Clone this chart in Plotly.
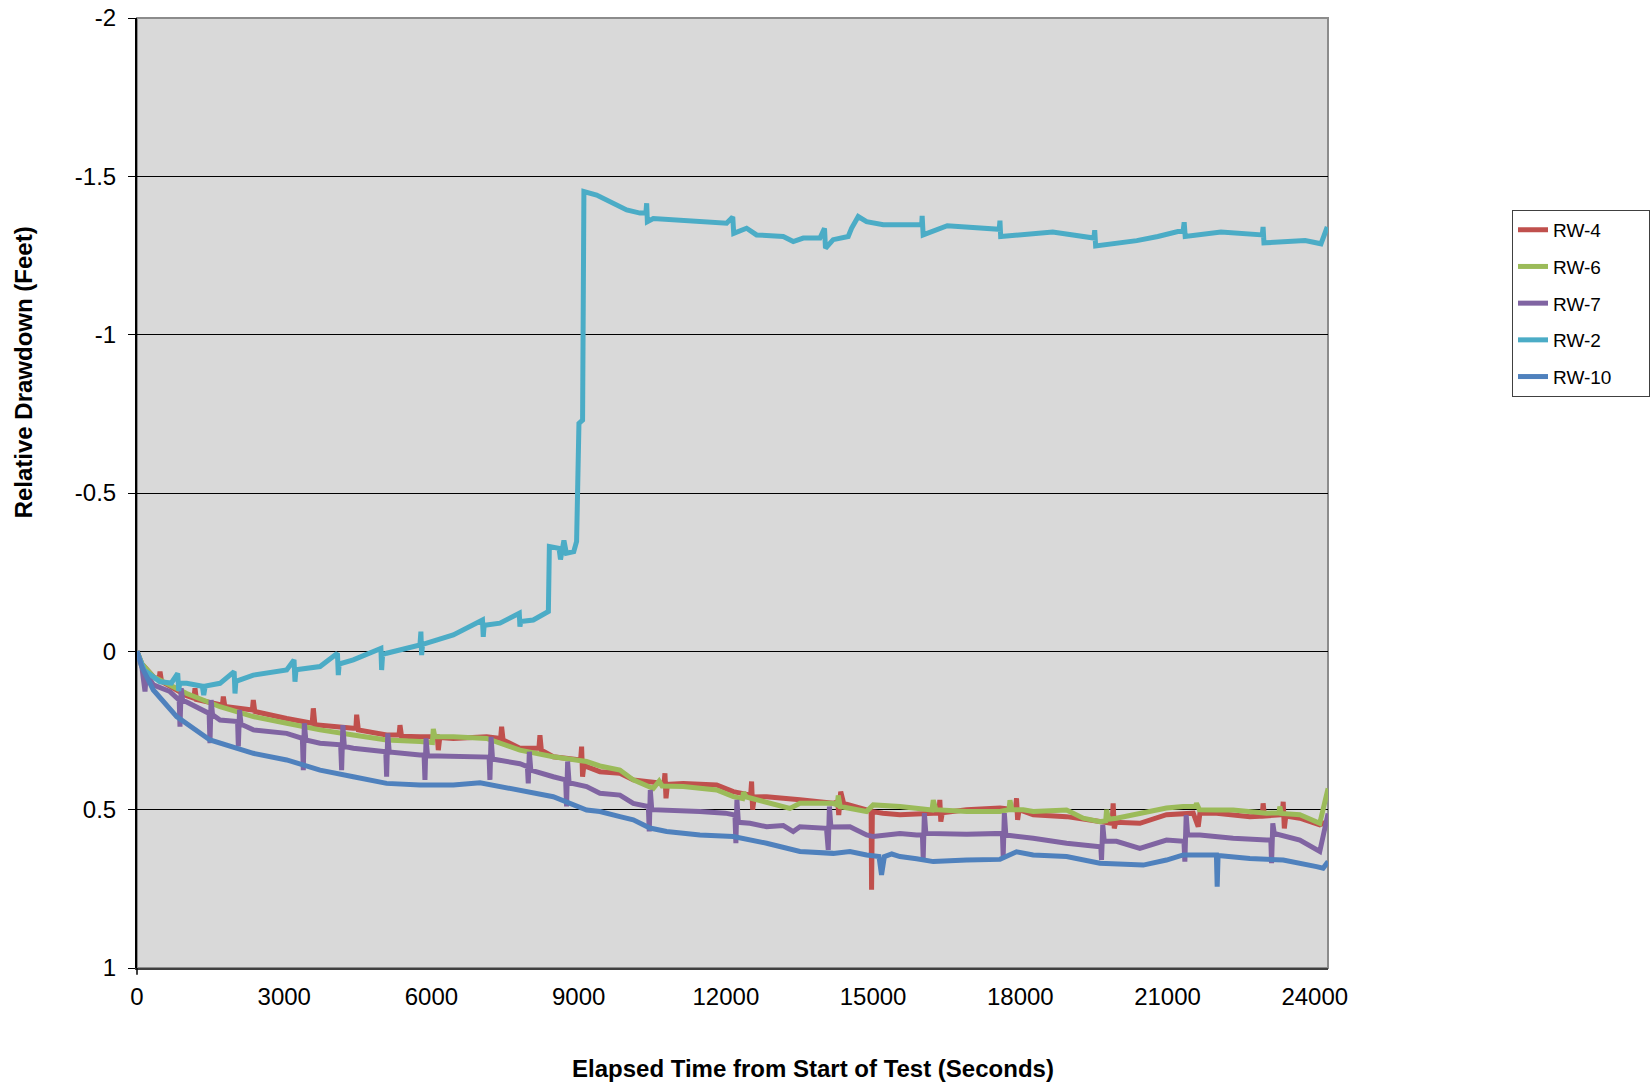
import plotly.graph_objects as go

# ---- data (elapsed seconds, relative drawdown in feet) ----
rw4_t = [0, 100, 333, 450, 469, 500, 1012, 1160, 1182, 1210, 1740, 1759, 1790, 2350, 2370, 2400,
         3050, 3570, 3593, 3625, 4408, 4460, 4476, 4510, 5087, 5340, 5359, 5390, 5766, 6120, 6140,
         6170, 6445, 7125, 7410, 7430, 7460, 7803, 8190, 8211, 8240, 8483, 9040, 9060, 9080, 9110,
         9162, 9433, 9841, 10113, 10740, 10758, 10780, 10810, 11131, 11812, 12151, 12505, 12524,
         12545, 12580, 12830, 13510, 14188, 14280, 14300, 14340, 14400, 14867, 14960, 14969, 14985,
         15200, 15547, 16226, 16340, 16360, 16380, 16410, 16906, 17585, 17900, 17923, 17945, 17975,
         18263, 18942, 19621, 19870, 19892, 19915, 19945, 20436, 20979, 21524, 21625, 21660, 22001,
         22678, 22930, 22948, 22975, 23340, 23357, 23380, 23410, 23696, 24102, 24272]
rw4_v = [0, 0.04, 0.08, 0.09, 0.064, 0.095, 0.14, 0.148, 0.117, 0.152, 0.17, 0.143, 0.174, 0.185,
         0.154, 0.19, 0.212, 0.227, 0.18, 0.232, 0.243, 0.243, 0.2, 0.248, 0.264, 0.264, 0.233, 0.268,
         0.27, 0.27, 0.312, 0.272, 0.275, 0.27, 0.275, 0.238, 0.28, 0.306, 0.306, 0.265, 0.312, 0.333,
         0.343, 0.301, 0.396, 0.355, 0.364, 0.38, 0.385, 0.406, 0.417, 0.385, 0.464, 0.42, 0.417,
         0.422, 0.443, 0.454, 0.411, 0.5, 0.46, 0.459, 0.469, 0.48, 0.475, 0.517, 0.443, 0.48, 0.501,
         0.506, 0.753, 0.506, 0.511, 0.516, 0.511, 0.511, 0.469, 0.538, 0.51, 0.5, 0.495, 0.5, 0.464,
         0.532, 0.5, 0.516, 0.522, 0.538, 0.543, 0.48, 0.559, 0.54, 0.543, 0.516, 0.511, 0.554,
         0.511, 0.511, 0.522, 0.52, 0.48, 0.52, 0.516, 0.475, 0.559, 0.52, 0.527, 0.548, 0.537]

rw6_t = [0, 100, 333, 1012, 1691, 2370, 3050, 3730, 4408, 5087, 5766, 6020, 6038, 6070, 6445, 7125,
         7803, 8483, 9162, 9433, 9841, 10113, 10520, 10640, 10700, 11131, 11812, 12151, 12340, 12360,
         12420, 12830, 13305, 13510, 14188, 14270, 14290, 14330, 14867, 15003, 15547, 16200, 16226,
         16280, 16906, 17585, 17770, 17789, 17830, 18060, 18263, 18942, 19281, 19621, 19740, 19758,
         19800, 19960, 20300, 20979, 21319, 21570, 21590, 21650, 22001, 22337, 23017, 23270, 23288,
         23320, 23696, 24102, 24272]
rw6_v = [0, 0.04, 0.08, 0.133, 0.175, 0.206, 0.227, 0.248, 0.264, 0.28, 0.285, 0.288, 0.245, 0.27,
         0.27, 0.275, 0.312, 0.333, 0.348, 0.362, 0.375, 0.406, 0.433, 0.41, 0.425, 0.427, 0.438,
         0.459, 0.465, 0.445, 0.46, 0.475, 0.496, 0.48, 0.48, 0.485, 0.455, 0.49, 0.506, 0.485, 0.49,
         0.501, 0.47, 0.5, 0.506, 0.506, 0.5, 0.47, 0.5, 0.5, 0.506, 0.501, 0.527, 0.538, 0.535, 0.50,
         0.53, 0.527, 0.516, 0.495, 0.49, 0.49, 0.48, 0.50, 0.501, 0.501, 0.511, 0.51, 0.49, 0.512,
         0.516, 0.543, 0.433]

rw7_t = [0, 100, 163, 190, 333, 672, 860, 876, 900, 930, 1012, 1470, 1487, 1510, 1540, 1691, 2050,
         2065, 2090, 2120, 2370, 3050, 3370, 3389, 3410, 3440, 3730, 4150, 4170, 4195, 4225, 4408,
         5070, 5087, 5110, 5140, 5766, 5850, 5868, 5890, 5920, 6445, 7125, 7175, 7192, 7215, 7245,
         7803, 7955, 7973, 7995, 8025, 8483, 8735, 8754, 8775, 8805, 9162, 9433, 9841, 10113, 10420,
         10439, 10460, 10490, 10792, 11471, 11990, 12185, 12204, 12225, 12255, 12491, 12830, 13170,
         13373, 13510, 14050, 14086, 14110, 14140, 14528, 14867, 15003, 15547, 15887, 16005, 16021,
         16045, 16075, 16906, 17635, 17651, 17675, 17705, 18263, 18942, 19621, 19640, 19655, 19680,
         19710, 19960, 20436, 20979, 21335, 21353, 21380, 21410, 21658, 22337, 23017, 23105, 23120,
         23145, 23175, 23696, 24102, 24272]
rw7_v = [0, 0.05, 0.127, 0.07, 0.106, 0.127, 0.154, 0.238, 0.117, 0.155, 0.16, 0.196, 0.29, 0.154,
         0.2, 0.217, 0.222, 0.30, 0.185, 0.23, 0.248, 0.259, 0.275, 0.375, 0.227, 0.28, 0.29, 0.295,
         0.375, 0.233, 0.30, 0.306, 0.317, 0.396, 0.259, 0.318, 0.327, 0.327, 0.406, 0.275, 0.33,
         0.333, 0.333, 0.334, 0.406, 0.27, 0.34, 0.355, 0.364, 0.417, 0.317, 0.375, 0.396, 0.406,
         0.49, 0.348, 0.415, 0.427, 0.448, 0.454, 0.48, 0.49, 0.569, 0.438, 0.50, 0.501, 0.506, 0.511,
         0.517, 0.606, 0.469, 0.54, 0.543, 0.554, 0.55, 0.569, 0.554, 0.559, 0.627, 0.49, 0.555,
         0.554, 0.58, 0.585, 0.575, 0.58, 0.58, 0.654, 0.511, 0.575, 0.578, 0.575, 0.648, 0.511, 0.58,
         0.59, 0.606, 0.617, 0.617, 0.659, 0.548, 0.60, 0.60, 0.622, 0.596, 0.60, 0.664, 0.517, 0.58,
         0.58, 0.59, 0.596, 0.596, 0.669, 0.543, 0.575, 0.596, 0.632, 0.512]

rw2_t = [0, 150, 469, 700, 830, 850, 870, 1012, 1330, 1360, 1390, 1691, 1980, 1997, 2015, 2370,
         3050, 3200, 3219, 3240, 3730, 4085, 4102, 4120, 4408, 4970, 4985, 5005, 5087, 5766, 5785,
         5800, 5820, 6445, 7040, 7056, 7075, 7125, 7396, 7790, 7803, 7820, 8075, 8383, 8403, 8600,
         8630, 8700, 8750, 8900, 8958, 9006, 9080, 9107, 9366, 9638, 9978, 10250, 10370, 10386,
         10400, 10521, 10929, 11471, 12015, 12140, 12160, 12422, 12626, 13169, 13373, 13577, 13917,
         14010, 14030, 14187, 14493, 14561, 14697, 14867, 15207, 15546, 15990, 16000, 16020, 16512,
         17570, 17585, 17600, 18660, 19500, 19516, 19535, 20373, 20802, 21320, 21339, 21360, 22089,
         22930, 22947, 22965, 23805, 24127, 24255]
rw2_v = [0, 0.06, 0.096, 0.10, 0.07, 0.125, 0.10, 0.101, 0.11, 0.138, 0.11, 0.101, 0.064, 0.133,
         0.095, 0.075, 0.059, 0.027, 0.096, 0.058, 0.048, 0.006, 0.075, 0.04, 0.027, -0.009, 0.059,
         0.01, 0.006, -0.02, -0.062, 0.012, -0.022, -0.052, -0.099, -0.046, -0.083, -0.083, -0.089,
         -0.12, -0.078, -0.094, -0.099, -0.126, -0.331, -0.325, -0.29, -0.35, -0.31, -0.315, -0.347,
         -0.72, -0.73, -1.452, -1.441, -1.42, -1.394, -1.384, -1.384, -1.415, -1.357, -1.367, -1.363,
         -1.357, -1.352, -1.372, -1.32, -1.336, -1.315, -1.31, -1.294, -1.305, -1.305, -1.336,
         -1.273, -1.30, -1.31, -1.336, -1.373, -1.357, -1.347, -1.347, -1.347, -1.375, -1.315,
         -1.344, -1.333, -1.36, -1.31, -1.324, -1.305, -1.33, -1.28, -1.297, -1.31, -1.33, -1.355,
         -1.31, -1.324, -1.315, -1.34, -1.29, -1.297, -1.287, -1.34]

rw10_t = [0, 100, 333, 808, 1487, 2370, 3050, 3730, 4408, 5087, 5766, 6445, 6990, 7803, 8483, 9162,
          9433, 9841, 10113, 10452, 10792, 11471, 12151, 12830, 13510, 14188, 14528, 14867, 15120,
          15172, 15230, 15380, 15547, 15887, 16226, 16906, 17585, 17923, 18263, 18942, 19621, 20504,
          20979, 21319, 21996, 22012, 22030, 22678, 23357, 24036, 24170, 24272]
rw10_v = [0, 0.05, 0.122, 0.206, 0.28, 0.322, 0.343, 0.375, 0.396, 0.417, 0.422, 0.422, 0.415,
          0.438, 0.459, 0.501, 0.506, 0.522, 0.532, 0.558, 0.569, 0.58, 0.585, 0.606, 0.632, 0.638,
          0.632, 0.643, 0.648, 0.706, 0.648, 0.640, 0.648, 0.655, 0.664, 0.659, 0.657, 0.633, 0.643,
          0.648, 0.669, 0.675, 0.659, 0.643, 0.643, 0.743, 0.645, 0.654, 0.659, 0.680, 0.685, 0.664]

series = [
    ("RW-4", rw4_t, rw4_v, "#C0504D"),
    ("RW-6", rw6_t, rw6_v, "#9BBB59"),
    ("RW-7", rw7_t, rw7_v, "#8064A2"),
    ("RW-2", rw2_t, rw2_v, "#4BACC6"),
    ("RW-10", rw10_t, rw10_v, "#4F81BD"),
]

y_ticks = [-2, -1.5, -1, -0.5, 0, 0.5, 1]
y_ticktext = ["-2", "-1.5", "-1", "-0.5", "0", "0.5", "1"]
x_ticks = [0, 3000, 6000, 9000, 12000, 15000, 18000, 21000, 24000]
x_ticktext = ["0", "3000", "6000", "9000", "12000", "15000", "18000", "21000", "24000"]

fig = go.Figure()
for name, t, v, color in series:
    label = name + ("\u00a0" * 6 if name == "RW-10" else "")
    fig.add_trace(go.Scatter(x=t, y=v, mode="lines", name=label, legendgroup=name,
                             line=dict(color=color, width=5)))

FONT = "Liberation Sans, Arial, sans-serif"
fig.update_layout(
    width=1651, height=1089,
    margin=dict(l=137, r=323, t=18, b=121, autoexpand=False),
    paper_bgcolor="white", plot_bgcolor="#D9D9D9",
    font=dict(family=FONT, color="black"),
    showlegend=True,
    legend=dict(x=1.1545, y=0.798, xanchor="left", yanchor="top",
                bgcolor="white", bordercolor="#404040", borderwidth=1,
                font=dict(size=19, family=FONT), traceorder="grouped", tracegroupgap=9),
    xaxis=dict(range=[0, 24270], tickvals=x_ticks, ticktext=x_ticktext, showgrid=False,
               zeroline=False, showline=True, linecolor="#404040", linewidth=2,
               ticks="outside", ticklen=0, tickfont=dict(size=24, family=FONT),
               ticklabelstandoff=6),
    yaxis=dict(range=[1, -2], tickvals=y_ticks, ticktext=y_ticktext, showgrid=True,
               gridcolor="black", gridwidth=1, zeroline=False, showline=True,
               linecolor="black", linewidth=2, ticks="outside", ticklen=7, tickcolor="black",
               tickfont=dict(size=24, family=FONT), ticklabelstandoff=7),
    shapes=[
        dict(type="rect", xref="paper", yref="paper", x0=0, x1=1, y0=0, y1=1,
             line=dict(color="#8C8C8C", width=2), layer="below"),
        dict(type="line", xref="paper", yref="paper", x0=0, x1=0, y0=0, y1=-0.007,
             line=dict(color="black", width=1.5)),
    ],
    annotations=[
        dict(text="<b>Relative Drawdown (Feet)</b>", xref="paper", yref="paper",
             x=-0.0957, y=0.627, textangle=-90, showarrow=False,
             font=dict(size=24, family=FONT), xanchor="center", yanchor="middle"),
        dict(text="<b>Elapsed Time from Start of Test (Seconds)</b>", xref="paper", yref="paper",
             x=0.5676, y=-0.1063, showarrow=False, font=dict(size=24, family=FONT),
             xanchor="center", yanchor="middle"),
    ],
)

fig.write_html("out.html", config={"displayModeBar": False},
               post_script="document.body.style.margin='0';document.body.style.overflow='hidden';")
